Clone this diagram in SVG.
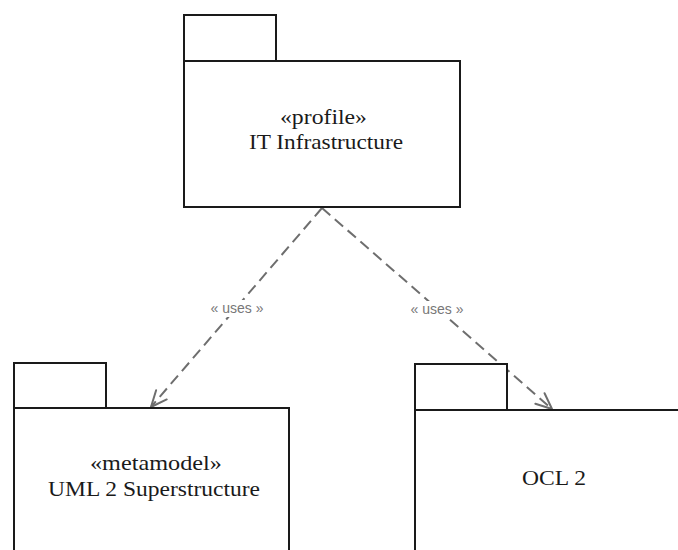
<svg xmlns="http://www.w3.org/2000/svg" width="678" height="550" viewBox="0 0 678 550">
  <defs>
    <style>
      .pkg { fill: #ffffff; stroke: #1a1a1a; stroke-width: 2; }
      .name { font-family: "Liberation Serif", "Times New Roman", serif; font-size: 21px; fill: #1a1a1a; text-anchor: middle; }
      .dep { fill: none; stroke: #6e6e6e; stroke-width: 2; stroke-dasharray: 11 6; }
      .head { fill: none; stroke: #6e6e6e; stroke-width: 2; stroke-linecap: round; stroke-linejoin: round; }
      .lbl { font-family: "Liberation Sans", Arial, sans-serif; font-size: 14px; fill: #777777; text-anchor: middle; }
      .lblbg { fill: #ffffff; }
    </style>
    <marker id="open" viewBox="0 0 20 20" refX="18" refY="10" markerWidth="20" markerHeight="20" markerUnits="userSpaceOnUse" orient="auto">
      <path class="head" d="M2,3 L18,10 L2,17"/>
    </marker>
  </defs>
  <rect width="678" height="550" fill="#ffffff"/>

  <!-- dependency connectors -->
  <g id="connectors">
    <line class="dep" x1="322" y1="208" x2="151" y2="407" marker-end="url(#open)"/>
    <line class="dep" x1="322" y1="208" x2="552" y2="409" marker-end="url(#open)"/>
    <rect class="lblbg" x="208" y="300" width="58" height="17"/>
    <text class="lbl" x="237" y="313">« uses »</text>
    <rect class="lblbg" x="408" y="301" width="58" height="17"/>
    <text class="lbl" x="437" y="314">« uses »</text>
  </g>

  <!-- profile package -->
  <g id="it-infrastructure">
    <rect class="pkg" x="184" y="15" width="92" height="46"/>
    <rect class="pkg" x="184" y="61" width="276" height="146"/>
    <text class="name" x="323.5" y="124" textLength="87" lengthAdjust="spacingAndGlyphs">«profile»</text>
    <text class="name" x="326" y="149" textLength="154" lengthAdjust="spacingAndGlyphs">IT Infrastructure</text>
  </g>

  <!-- metamodel package -->
  <g id="uml2-superstructure">
    <rect class="pkg" x="14" y="363" width="92" height="45"/>
    <rect class="pkg" x="14" y="408" width="275" height="160"/>
    <text class="name" x="156" y="470" textLength="132" lengthAdjust="spacingAndGlyphs">«metamodel»</text>
    <text class="name" x="154" y="496" textLength="212" lengthAdjust="spacingAndGlyphs">UML 2 Superstructure</text>
  </g>

  <!-- OCL package -->
  <g id="ocl2">
    <rect class="pkg" x="415" y="364" width="92" height="46"/>
    <rect class="pkg" x="415" y="410" width="280" height="160"/>
    <text class="name" x="554" y="485" textLength="64" lengthAdjust="spacingAndGlyphs">OCL 2</text>
  </g>
</svg>
